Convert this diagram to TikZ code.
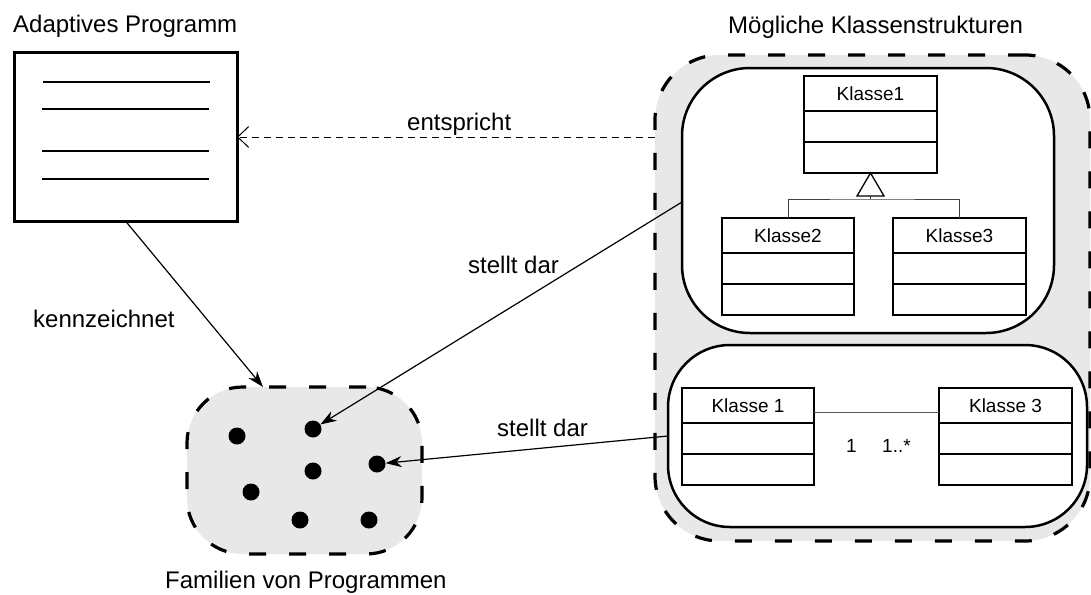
\documentclass[tikz,border=0pt]{standalone}
\usepackage{fontspec}
\setmainfont{Liberation Sans}
\usetikzlibrary{arrows.meta,calc}
\definecolor{regiongray}{RGB}{232,232,232}
\begin{document}
\begin{tikzpicture}[x=1pt,y=-1pt,
  lbl/.style={font=\fontsize{24}{28}\selectfont, anchor=base west, inner sep=0pt},
  clsname/.style={font=\fontsize{19}{22}\selectfont, inner sep=0pt},
  mult/.style={font=\fontsize{19}{22}\selectfont, anchor=base west, inner sep=0pt},
  clsbox/.style={draw, line width=1.3pt, fill=white, inner sep=0pt, outer sep=0pt, minimum height=97pt},
  divider/.style={line width=1.3pt},
  region/.style={draw, line width=3.2pt, dash pattern=on 17pt off 23pt, fill=regiongray, inner sep=0pt, outer sep=0pt},
  roundbox/.style={draw, line width=2.5pt, fill=white, inner sep=0pt, outer sep=0pt},
  dot/.style={circle, fill=black, inner sep=0pt, minimum size=17pt},
  solidarrow/.style={line width=1.2pt, -{Stealth[length=16pt,width=11pt,inset=5pt]}},
  dashedarrow/.style={line width=1pt, dash pattern=on 7pt off 5pt, -{Straight Barb[length=11pt,width=21pt,line width=1pt]}},
  genline/.style={line width=1pt, draw=black!75},
  assocline/.style={line width=1pt, draw=black!65}]
\useasboundingbox (0,0) rectangle (1091,594);

% titles
\node[lbl] (t1) at (13,33) {Adaptives Programm};
\node[lbl] (t2) at (728,34) {Mögliche Klassenstrukturen};

% adaptive program box
\node[draw, line width=3pt, fill=white, minimum width=223pt, minimum height=168pt, inner sep=0pt, outer sep=0pt] (prog) at (125.5,137) {};
\draw[line width=2pt] ($(prog.north west)+(29,29)$) -- ($(prog.north west)+(196,29)$);
\draw[line width=2pt] ($(prog.north west)+(28,56)$) -- ($(prog.north west)+(195,56)$);
\draw[line width=2pt] ($(prog.north west)+(28,98)$) -- ($(prog.north west)+(195,98)$);
\draw[line width=2pt] ($(prog.north west)+(28,126)$) -- ($(prog.north west)+(195,126)$);

% outer region of class structures
\node[region, rounded corners=65pt, minimum width=435pt, minimum height=486pt] (outer) at (872.5,298) {};
\node[roundbox, rounded corners=68pt, minimum width=372pt, minimum height=265pt] (upper) at (868,200.5) {};
\node[roundbox, rounded corners=62pt, minimum width=419pt, minimum height=182pt] (lower) at (877.5,436) {};

% upper class hierarchy
\node[clsbox, minimum width=133pt] (k1) at (870.5,124.5) {};
\node[clsbox, minimum width=132pt] (k2) at (788,266.5) {};
\node[clsbox, minimum width=133pt] (k3) at (959.5,266.5) {};
\foreach \k in {k1,k2,k3}{
  \draw[divider] ($(\k.north west)+(0,35)$) -- ($(\k.north east)+(0,35)$);
  \draw[divider] ($(\k.north west)+(0,66)$) -- ($(\k.north east)+(0,66)$);
}
\node[clsname] (k1n) at ($(k1.north)+(0,17.5)$) {Klasse1};
\node[clsname] (k2n) at ($(k2.north)+(0,17.5)$) {Klasse2};
\node[clsname] (k3n) at ($(k3.north)+(0,17.5)$) {Klasse3};

\coordinate (gj) at ($(k1.south)+(0,26)$);
\draw[genline] (k2.north) |- (gj) -| (k3.north);
\draw[genline] (gj) -- ($(k1.south)+(0,23)$);
\draw[line width=1.3pt, fill=white] (k1.south) -- ++(-13.5,23) -- ++(27,0) -- cycle;

% lower association
\node[clsbox, minimum width=132pt] (lk1) at (748,436.5) {};
\node[clsbox, minimum width=133pt] (lk3) at (1005.5,436.5) {};
\foreach \k in {lk1,lk3}{
  \draw[divider] ($(\k.north west)+(0,35)$) -- ($(\k.north east)+(0,35)$);
  \draw[divider] ($(\k.north west)+(0,66)$) -- ($(\k.north east)+(0,66)$);
}
\node[clsname] (lk1n) at ($(lk1.north)+(0,17.5)$) {Klasse 1};
\node[clsname] (lk3n) at ($(lk3.north)+(0,17.5)$) {Klasse 3};
\draw[assocline] ($(lk1.north east)+(0,24)$) -- ($(lk3.north west)+(0,24)$);
\node[mult] (m1) at (846,452) {1};
\node[mult] (m2) at (882,452) {1..*};

% family of programs
\node[region, rounded corners=56pt, minimum width=235pt, minimum height=167pt] (fam) at (304.5,470.5) {};
\node[dot] (d1) at (237,436) {};
\node[dot] (d2) at (313,429) {};
\node[dot] (d3) at (313,471) {};
\node[dot] (d4) at (377,464) {};
\node[dot] (d5) at (251,492) {};
\node[dot] (d6) at (300,520) {};
\node[dot] (d7) at (369,520) {};
\node[lbl] (famlbl) at (165,588) {Familien von Programmen};

% connectors
\coordinate (famtop) at ($(fam.north west)+(76,0)$);
\draw[solidarrow] (prog.south) -- (famtop);
\node[lbl] (kz) at (33,327) {kennzeichnet};

\draw[dashedarrow] (outer.west |- prog.east) -- (prog.east);
\node[lbl] (ent) at (407,130) {entspricht};

\coordinate (uleft) at ($(upper.north west)+(0,134)$);
\draw[solidarrow] (uleft) -- (d2);
\node[lbl] (sd1) at (468,273) {stellt dar};

\coordinate (lleft) at ($(lower.north west)+(0,91)$);
\draw[solidarrow] (lleft) -- (d4);
\node[lbl] (sd2) at (497,436) {stellt dar};
\end{tikzpicture}
\end{document}
